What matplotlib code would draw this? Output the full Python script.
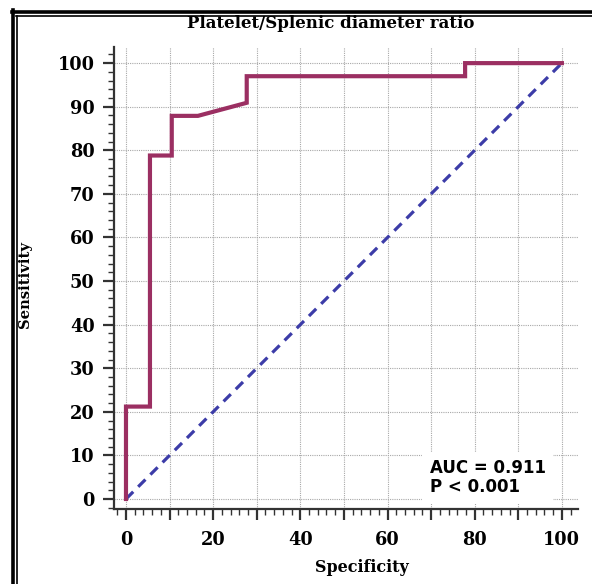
import numpy as np
import matplotlib
matplotlib.use("Agg")
import matplotlib.pyplot as plt
from matplotlib.lines import Line2D
from matplotlib.ticker import MultipleLocator, FuncFormatter

# ROC curve points (specificity axis, sensitivity)
roc_x = [0, 0, 5.5, 5.5, 10.5, 10.5, 16.5, 27.7, 27.7, 77.8, 77.8, 100]
roc_y = [0, 21.2, 21.2, 78.8, 78.8, 87.9, 87.9, 90.9, 97.0, 97.0, 100, 100]
ref_x = [0, 100]
ref_y = [0, 100]
title = "Platelet/Splenic diameter ratio"
auc_text = "AUC = 0.911\nP < 0.001"

serif = ["DejaVu Serif"]
W, H = 592, 584
fig = plt.figure(figsize=(W / 100, H / 100), dpi=100)
ax = fig.add_axes([114 / W, 1 - 509 / H, (578 - 114) / W, (509 - 47) / H])

ax.set_xlim(-2.75, 103.7)
ax.set_ylim(-2.3, 103.7)

ax.grid(True, which="major", color="#a8a8a8", linestyle=(0, (1, 1)), linewidth=0.8)
ax.set_axisbelow(True)

ax.plot(ref_x, ref_y, color="#3c3ca8", lw=2.3, linestyle=(0, (3.2, 2.2)), zorder=3)
ax.plot(roc_x, roc_y, color="#9b2f62", lw=3.0, solid_joinstyle="miter", zorder=4)

for s in ["top", "right"]:
    ax.spines[s].set_visible(False)
for s in ["left", "bottom"]:
    ax.spines[s].set_color("#333333")
    ax.spines[s].set_linewidth(1.6)

ax.xaxis.set_major_locator(MultipleLocator(10))
ax.xaxis.set_minor_locator(MultipleLocator(2))
ax.yaxis.set_major_locator(MultipleLocator(10))
ax.yaxis.set_minor_locator(MultipleLocator(2))
ax.xaxis.set_major_formatter(FuncFormatter(lambda v, p: f"{v:.0f}" if round(v) % 20 == 0 else ""))
ax.yaxis.set_major_formatter(FuncFormatter(lambda v, p: f"{v:.0f}"))
ax.tick_params(which="major", length=8, width=1.6, color="#333333", pad=6)
ax.tick_params(which="minor", length=4.5, width=1.0, color="#333333")
ax.tick_params(axis="x", which="major", pad=8)
for lab in ax.get_xticklabels() + ax.get_yticklabels():
    lab.set_fontfamily(serif)
    lab.set_fontweight("bold")
    lab.set_fontsize(12.8)

ax.text(0.681, 0.068, auc_text, transform=ax.transAxes, ha="left", va="center",
        fontsize=12, fontweight="bold", family=["DejaVu Sans"],
        linespacing=1.08,
        bbox=dict(boxstyle="square,pad=0.45", facecolor="white", edgecolor="none"), zorder=5)

fig.text(331 / W, 1 - 24 / H, title, ha="center", va="center", fontsize=12,
         fontweight="bold", family=serif)
fig.text(362 / W, 1 - 568 / H, "Specificity", ha="center", va="center", fontsize=11.5,
         fontweight="bold", family=serif)
fig.text(25 / W, 1 - 285 / H, "Sensitivity", ha="center", va="center", fontsize=10.6,
         fontweight="bold", family=serif, rotation=90)

# double frame along top and left
fig.add_artist(Line2D([12 / W, 1], [1 - 11.5 / H, 1 - 11.5 / H], color="black", lw=2.6))
fig.add_artist(Line2D([16 / W, 1], [1 - 16 / H, 1 - 16 / H], color="black", lw=1.2))
fig.add_artist(Line2D([12.5 / W, 12.5 / W], [0, 1 - 10 / H], color="black", lw=2.6))
fig.add_artist(Line2D([16.5 / W, 16.5 / W], [0, 1 - 16 / H], color="black", lw=1.2))

fig.savefig("out.png", dpi=100)
